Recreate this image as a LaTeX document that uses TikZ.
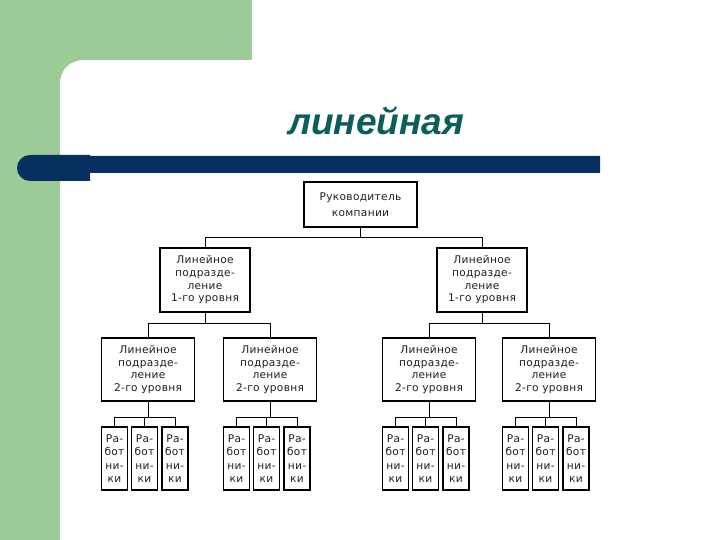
\documentclass[tikz,border=0pt]{standalone}
\usepackage{fontspec}
\setmainfont{DejaVu Sans}
\newfontfamily\boxfont[LetterSpace=3]{DejaVu Sans}
\newfontfamily\titlefont{Liberation Sans}
\definecolor{bggreen}{HTML}{9DCB98}
\definecolor{barblue}{HTML}{06305F}
\definecolor{titleteal}{HTML}{0B5E5A}
\definecolor{txtgray}{HTML}{1E1E1E}
\begin{document}
\begin{tikzpicture}[x=1pt,y=-1pt,
  orgbox/.style={draw=black, line width=1.4pt, fill=white, align=center, inner sep=0pt, text=txtgray},
  topbox/.style={orgbox, minimum width=113pt, minimum height=45pt, font=\boxfont\fontsize{10.6}{16}\selectfont},
  lonebox/.style={orgbox, minimum width=90pt, minimum height=64pt, font=\boxfont\fontsize{10.6}{12.7}\selectfont},
  ltwobox/.style={orgbox, minimum width=93pt, minimum height=63pt, font=\boxfont\fontsize{10.6}{12.7}\selectfont},
  wbox/.style={orgbox, minimum width=26pt, minimum height=63pt, font=\boxfont\fontsize{10.6}{13.3}\selectfont},
  conn/.style={draw=black, line width=0.9pt}]
\useasboundingbox (0,0) rectangle (720,540);
\fill[white] (0,0) rectangle (720,540);
% green background
\fill[bggreen] (0,0) -- (252,0) -- (252,60) -- (83,60) .. controls (70,60) and (60,70) .. (60,83) -- (60,540) -- (0,540) -- cycle;
% blue bar
\fill[barblue] (90,181) -- (90,173) -- (600,173) -- (600,156) -- (90,156) -- (90,155) [rounded corners=13pt] -- (17,155) -- (17,181) [sharp corners] -- cycle;
% title
\node[anchor=base, text=titleteal, font=\titlefont\bfseries\itshape\fontsize{37}{42}\selectfont, inner sep=0pt] (title) at (376,135) {линейная};
% nodes
\node[topbox] (top) at (360.5,204.5) {Руководитель\\компании};
\node[lonebox] (la) at (205,280) {Линейное\\подразде-\\ление\\1-го уровня};
\node[lonebox] (lb) at (482,280) {Линейное\\подразде-\\ление\\1-го уровня};
\foreach \i/\x in {1/148,2/270,3/429,4/549}{
  \node[ltwobox] (m\i) at (\x,369.5) {Линейное\\подразде-\\ление\\2-го уровня};
  \foreach \j/\dx in {1/-33.5,2/-3.5,3/27}{
    \node[wbox] (w\i\j) at (\x+\dx,458.5) {Ра-\\бот\\ни-\\ки};
  }
}
% connectors
\draw[conn] (top.south) -- (top.south |- 0,237) -| (la.north);
\draw[conn] (top.south |- 0,237) -| (lb.north);
\draw[conn] (la.south) -- (la.south |- 0,323) -| (m1.north);
\draw[conn] (la.south |- 0,323) -| (m2.north);
\draw[conn] (lb.south) -- (lb.south |- 0,323) -| (m3.north);
\draw[conn] (lb.south |- 0,323) -| (m4.north);
\foreach \i in {1,2,3,4}{
  \draw[conn] (m\i.south) -- (m\i.south |- 0,417) -| (w\i1.north);
  \draw[conn] (m\i.south |- 0,417) -| (w\i3.north);
  \draw[conn] (w\i2.north) |- (m\i.south |- 0,417);
}
\end{tikzpicture}
\end{document}
